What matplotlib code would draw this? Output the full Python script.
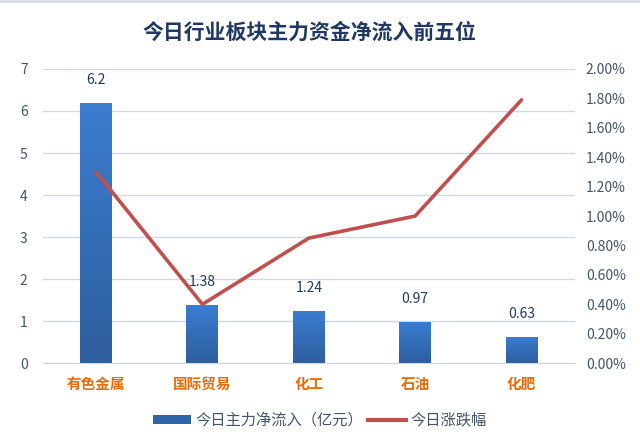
import matplotlib
matplotlib.use("Agg")
import matplotlib.pyplot as plt
import numpy as np
from matplotlib.ticker import FuncFormatter, MultipleLocator
from matplotlib.patches import Rectangle
from matplotlib.lines import Line2D
from matplotlib.colors import LinearSegmentedColormap

plt.rcParams['font.family'] = ['Noto Sans CJK SC', 'DejaVu Sans']

categories = ['有色金属', '国际贸易', '化工', '石油', '化肥']
inflow = [6.2, 1.38, 1.24, 0.97, 0.63]
change_pct = [1.30, 0.40, 0.85, 1.00, 1.79]
title = '今日行业板块主力资金净流入前五位'
legend_bar = '今日主力净流入（亿元）'
legend_line = '今日涨跌幅'

tick_color = '#44546A'
navy = '#1F3864'

fig = plt.figure(figsize=(6.4, 4.45), dpi=100)
ax = fig.add_axes([0.067, 0.184, 0.831, 0.661])
ax2 = ax.twinx()

x = np.arange(len(categories))
bw = 0.30
bars = ax.bar(x, inflow, width=bw, color='none', edgecolor='none', zorder=2)
grad = np.linspace(0, 1, 256).reshape(-1, 1)
cmap = LinearSegmentedColormap.from_list('g', ['#2D5E9E', '#3B7DD0'])
for b in bars:
    x0, y0, w, h = b.get_x(), b.get_y(), b.get_width(), b.get_height()
    im = ax.imshow(grad, extent=[x0, x0 + w, y0, y0 + h], origin='lower',
                   cmap=cmap, aspect='auto', zorder=2)
    im.set_clip_path(b)
    ax.annotate(f'{h:g}', xy=(x0 + w / 2, h), xytext=(0, 16.5),
                textcoords='offset points', ha='center', va='center',
                fontsize=10, color=navy, zorder=5)

ax.set_xlim(-0.5, len(categories) - 0.5)
ax.set_ylim(0, 7)
ax.yaxis.set_major_locator(MultipleLocator(1))
ax.grid(axis='y', color='#D0D8E8', linewidth=1, zorder=0)
ax.set_axisbelow(True)

ax2.plot(x, change_pct, color='#C0504D', linewidth=2.6, zorder=4, solid_capstyle='round')
ax2.set_ylim(0, 2.0)
ax2.yaxis.set_major_locator(MultipleLocator(0.2))
ax2.yaxis.set_major_formatter(FuncFormatter(lambda v, p: f'{v:.2f}%'))

for a in (ax, ax2):
    for s in a.spines.values():
        s.set_visible(False)
    a.tick_params(length=0, labelsize=10, colors=tick_color)
ax.spines['bottom'].set_visible(True)
ax.spines['bottom'].set_color('#D0D8E8')
ax.tick_params(axis='y', pad=11)
ax2.tick_params(axis='y', pad=8)

ax.set_xticks(x)
ax.set_xticklabels(categories, fontsize=10.5, fontweight='bold', color='#E46C0A')
ax.tick_params(axis='x', pad=9)

fig.text(0.484, 0.928, title, ha='center', va='center', fontsize=15,
         fontweight='bold', color=navy)

# top border line
fig.add_artist(Line2D([0, 1], [0.997, 0.997], transform=fig.transFigure,
                      color='#D9DDE6', linewidth=2))

handles = [Rectangle((0, 0), 1, 1, facecolor='#2E64A8', edgecolor='none'),
           Line2D([0], [0], color='#C0504D', linewidth=3)]
leg = fig.legend(handles, [legend_bar, legend_line], loc='center',
                 bbox_to_anchor=(0.5, 0.056), ncol=2, frameon=False,
                 fontsize=11, handlelength=2.5, handleheight=0.5,
                 columnspacing=0.3, handletextpad=0.3)
for t in leg.get_texts():
    t.set_color(tick_color)

fig.savefig('out.png', dpi=100, facecolor='white')
